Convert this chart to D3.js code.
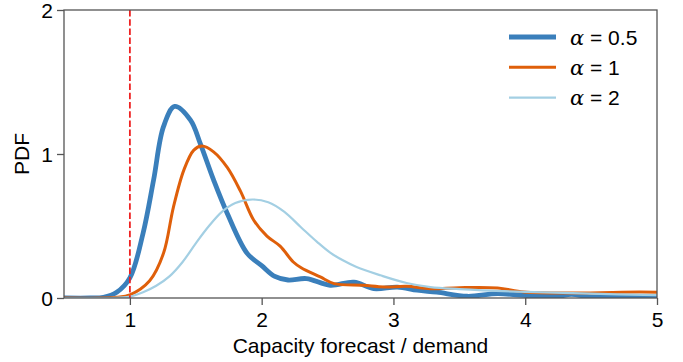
<!DOCTYPE html>
<html>
<head>
<meta charset="utf-8">
<script src="https://cdn.jsdelivr.net/npm/d3@7"></script>
<style>
  body { margin: 0; background: #fff; }
  svg { overflow: visible; }
  text { font-family: "Liberation Sans", Arial, sans-serif; }
</style>
</head>
<body>
<div id="chart"></div>
<script>
// curve samples: [ratio, density]
const alpha05 = [[0.5,0],[0.7,0],[0.8,0.005],[0.9,0.04],[1.0,0.14],[1.1,0.45],[1.18,0.82],[1.255,1.19],[1.34,1.33],[1.46,1.235],[1.535,1.07],[1.635,0.82],[1.74,0.585],[1.89,0.31],[2.0,0.225],[2.1,0.15],[2.2,0.125],[2.34,0.135],[2.52,0.088],[2.7,0.11],[2.85,0.065],[3.03,0.076],[3.18,0.054],[3.33,0.04],[3.56,0.012],[3.79,0.03],[3.99,0.019],[4.24,0.012],[4.35,0.025],[4.5,0.008],[4.75,0.01],[5.0,0.01]];
const alpha1 = [[0.5,0],[0.8,0],[0.9,0.005],[1.0,0.022],[1.15,0.12],[1.255,0.31],[1.33,0.63],[1.41,0.89],[1.485,1.027],[1.547,1.055],[1.635,1.015],[1.74,0.905],[1.84,0.74],[1.94,0.54],[2.04,0.43],[2.14,0.36],[2.24,0.25],[2.3,0.21],[2.445,0.146],[2.55,0.1],[2.77,0.088],[2.93,0.076],[3.1,0.081],[3.28,0.065],[3.5,0.072],[3.79,0.07],[3.99,0.042],[4.37,0.035],[4.87,0.042],[5.0,0.04]];
const alpha2 = [[0.5,0],[0.85,0],[1.0,0.01],[1.1,0.04],[1.2,0.085],[1.3,0.15],[1.4,0.25],[1.5,0.38],[1.6,0.5],[1.7,0.6],[1.8,0.66],[1.93,0.684],[2.05,0.665],[2.17,0.6],[2.3,0.49],[2.42,0.39],[2.52,0.315],[2.62,0.26],[2.72,0.215],[2.9,0.158],[3.1,0.104],[3.28,0.076],[3.5,0.062],[4.0,0.042],[4.5,0.03],[5.0,0.02]];

const seriesNames = ["0.5", "1", "2"];
const seriesData = [alpha05, alpha1, alpha2];
const seriesColors = ["#3a7fbb", "#df5f0a", "#a3cfe3"];
const seriesWidths = [4.8, 3, 2.2];

const xTicks = [1, 2, 3, 4, 5];
const yTicks = [0, 1, 2];
const threshold = 1;

const width = 683, height = 362;
const margin = { top: 10, right: 26, bottom: 64, left: 64 };
const iw = width - margin.left - margin.right;
const ih = height - margin.top - margin.bottom;

const svg = d3.select("#chart").append("svg")
  .attr("width", width).attr("height", height);
const g = svg.append("g").attr("transform", `translate(${margin.left},${margin.top})`);

const x = d3.scaleLinear().domain([0.5, 5]).range([0, iw]);
const y = d3.scaleLinear().domain([0, 2]).range([ih, 0]);

const spine = "#555";
const fontSize = "21px";

// curves
const line = d3.line().x(d => x(d[0])).y(d => y(d[1])).curve(d3.curveCatmullRom.alpha(0.5));
g.append("clipPath").attr("id", "clip").append("rect")
  .attr("width", iw).attr("height", ih);
seriesData.forEach((s, i) => {
  g.append("path").datum(s)
    .attr("fill", "none")
    .attr("stroke", seriesColors[i])
    .attr("stroke-width", seriesWidths[i])
    .attr("stroke-linejoin", "round")
    .attr("clip-path", "url(#clip)")
    .attr("d", line);
});

// red dashed threshold
g.append("line")
  .attr("x1", x(threshold)).attr("x2", x(threshold))
  .attr("y1", 0).attr("y2", ih)
  .attr("stroke", "#ee2222").attr("stroke-width", 1.8)
  .attr("stroke-dasharray", "6.5,2.7");

// frame
g.append("rect").attr("width", iw).attr("height", ih)
  .attr("fill", "none").attr("stroke", spine).attr("stroke-width", 1.3);

// axes
const xAxis = g.append("g").attr("transform", `translate(0,${ih})`)
  .call(d3.axisBottom(x).tickValues(xTicks).tickSize(7).tickPadding(7).tickFormat(d3.format("d")));
const yAxis = g.append("g")
  .call(d3.axisLeft(y).tickValues(yTicks).tickSize(7).tickPadding(4).tickFormat(d3.format("d")));
[xAxis, yAxis].forEach(a => {
  a.select(".domain").remove();
  a.selectAll(".tick line").attr("stroke", spine).attr("stroke-width", 1.3);
  a.selectAll(".tick text").attr("fill", "#000").style("font-size", fontSize)
    .style("font-family", "'Liberation Sans', Arial, sans-serif");
});
yAxis.selectAll(".tick text").attr("dy", "0.34em");

// axis titles
svg.append("text")
  .attr("x", margin.left + iw / 2).attr("y", 353)
  .attr("text-anchor", "middle").style("font-size", fontSize)
  .text("Capacity forecast / demand");
svg.append("text")
  .attr("transform", `translate(29,${margin.top + ih / 2}) rotate(-90)`)
  .attr("text-anchor", "middle").style("font-size", fontSize)
  .text("PDF");

// legend
const legend = svg.append("g").attr("transform", "translate(509,37)");
seriesNames.forEach((name, i) => {
  const row = legend.append("g").attr("transform", `translate(0,${i * 30.3})`);
  row.append("line").attr("x1", 0).attr("x2", 47)
    .attr("stroke", seriesColors[i]).attr("stroke-width", seriesWidths[i]);
  const t = row.append("text").attr("x", 61).attr("y", 7.5).style("font-size", fontSize);
  t.append("tspan").style("font-family", "'DejaVu Serif', serif").style("font-style", "italic").text("α");
  t.append("tspan").text(" = " + name);
});
</script>
</body>
</html>
